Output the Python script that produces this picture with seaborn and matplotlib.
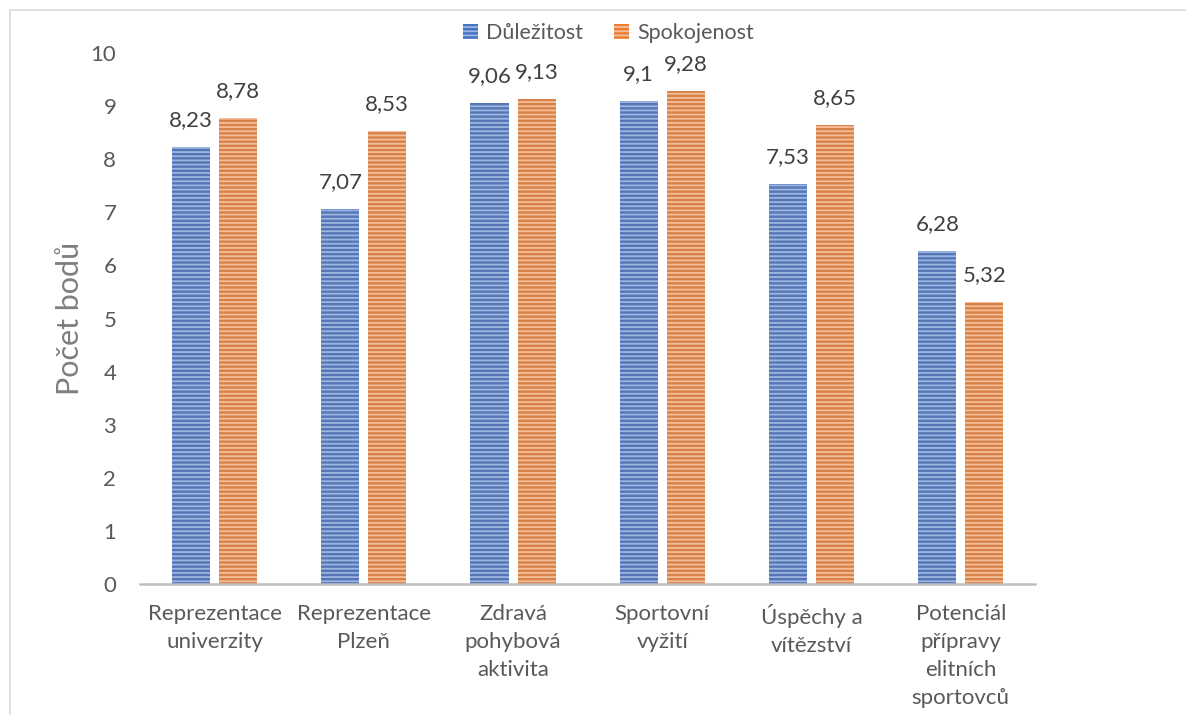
import matplotlib
matplotlib.use("Agg")
import matplotlib.pyplot as plt
import seaborn as sns
import pandas as pd
from matplotlib.patches import Rectangle, Patch

categories = [
    "Reprezentace\nuniverzity",
    "Reprezentace\nPlzeň",
    "Zdravá\npohybová\naktivita",
    "Sportovní\nvyžití",
    "Úspěchy a\nvítězství",
    "Potenciál\npřípravy\nelitních\nsportovců",
]
dulezitost = [8.23, 7.07, 9.06, 9.10, 7.53, 6.28]
spokojenost = [8.78, 8.53, 9.13, 9.28, 8.65, 5.32]
series_names = ["Důležitost", "Spokojenost"]
y_ticks = list(range(0, 11))

fill_colors = {"Důležitost": "#4472C4", "Spokojenost": "#ED7D31"}
stripe_colors = {"Důležitost": "#9DB5E2", "Spokojenost": "#F6BE98"}

df = pd.DataFrame({
    "kategorie": categories * 2,
    "hodnota": dulezitost + spokojenost,
    "serie": [series_names[0]] * len(categories) + [series_names[1]] * len(categories),
})

sns.set_theme(style="white")
plt.rcParams["font.family"] = ["Lato", "DejaVu Sans"]
plt.rcParams["hatch.linewidth"] = 1.3

fig = plt.figure(figsize=(11.86, 7.15), dpi=100)
ax = fig.add_axes([0.118, 0.183, 0.755, 0.743])

sns.barplot(data=df, x="kategorie", y="hodnota", hue="serie",
            hue_order=series_names, palette=fill_colors,
            width=0.63, gap=0.19, ax=ax, legend=False, errorbar=None)

# striped fill on every bar
for container, name in zip(ax.containers, series_names):
    for bar in container:
        bar.set_hatch("----")
        bar.set_edgecolor(stripe_colors[name])
        bar.set_linewidth(0)
    labels = [f"{v:g}".replace(".", ",") for v in container.datavalues]
    ax.bar_label(container, labels=labels, padding=12, fontsize=16, color="#404040")

ax.set_ylim(0, 10)
ax.set_yticks(y_ticks)
ax.set_xlim(-0.5, len(categories) - 0.5)
ax.tick_params(axis="y", labelsize=16, colors="#595959", length=0, pad=17)
ax.tick_params(axis="x", labelsize=16, colors="#595959", length=0, pad=14)
for lbl in ax.get_xticklabels():
    lbl.set_linespacing(1.5)
    lbl.set_verticalalignment("top")

ax.set_xlabel("")
ax.set_ylabel("Počet bodů", fontsize=22, color="#7F7F7F")
ax.yaxis.set_label_coords(-0.063, 0.5)

for side in ["top", "right", "left"]:
    ax.spines[side].set_visible(False)
ax.spines["bottom"].set_color("#BFBFBF")
ax.spines["bottom"].set_linewidth(1.8)

handles = [Patch(facecolor=fill_colors[n], edgecolor=stripe_colors[n], hatch="----",
                 linewidth=0, label=n) for n in series_names]
fig.legend(handles=handles, loc="center", bbox_to_anchor=(0.513, 0.954), ncol=2,
           frameon=False, fontsize=15.5, handlelength=0.7, handleheight=0.7,
           handletextpad=0.4, columnspacing=1.4, labelcolor="#595959")

# chart frame
fig.patches.append(Rectangle((10 / 1186, -0.01), 1.2, 1 - 10 / 715 + 0.01,
                             transform=fig.transFigure, fill=False,
                             edgecolor="#D9D9D9", linewidth=1.2))

fig.savefig("out.png", dpi=100, facecolor="white")
